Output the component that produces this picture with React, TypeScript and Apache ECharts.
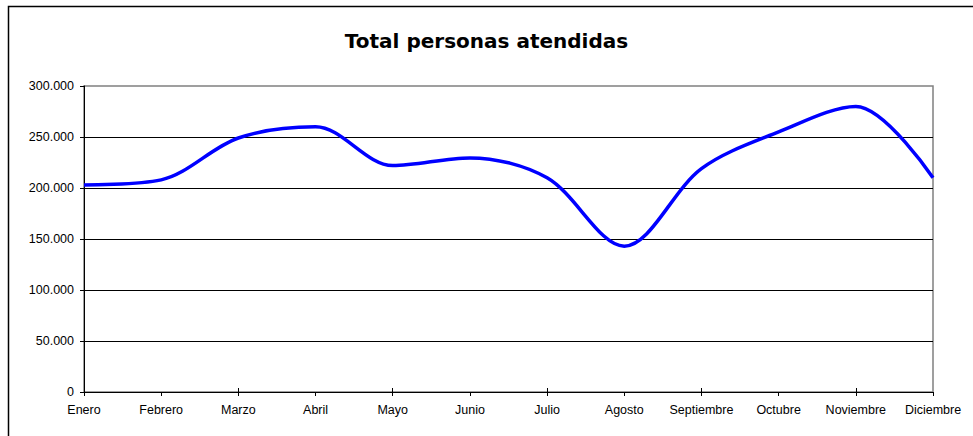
import React, { useEffect, useRef } from "react";
import * as echarts from "echarts";

const months = ["Enero", "Febrero", "Marzo", "Abril", "Mayo", "Junio", "Julio", "Agosto", "Septiembre", "Octubre", "Noviembre", "Diciembre"];
const attended = [203000, 208000, 249000, 260000, 222000, 229500, 210000, 143000, 219000, 255000, 280000, 210000];
const titleText = "Total personas atendidas";

export default function App() {
  const ref = useRef<HTMLDivElement>(null);
  useEffect(() => {
    if (!ref.current) return;
    const chart = echarts.init(ref.current, null, { renderer: "svg" });
    const font = "'Liberation Sans', Arial, sans-serif";
    chart.setOption({
      animation: false,
      backgroundColor: "#ffffff",
      title: {
        text: titleText,
        left: "center",
        top: 26,
        textStyle: { fontFamily: "'DejaVu Sans', Verdana, sans-serif", fontWeight: "bold", fontSize: 20, color: "#000" },
      },
      graphic: [
        {
          type: "rect",
          shape: { x: 8.5, y: 6.5, width: 1000, height: 500 },
          style: { fill: "none", stroke: "#000", lineWidth: 1.5 },
          silent: true,
          z: 0,
        },
      ],
      grid: {
        left: 84,
        right: 40,
        top: 86,
        bottom: 44,
        show: true,
        borderColor: "#808080",
        borderWidth: 1.5,
        backgroundColor: "transparent",
      },
      xAxis: [
        {
          type: "category",
          data: months,
          boundaryGap: false,
          axisLine: { lineStyle: { color: "#000", width: 1 } },
          axisTick: { show: true, inside: false, length: 4, lineStyle: { color: "#000" } },
          axisLabel: { color: "#000", fontFamily: font, fontSize: 12.5, margin: 11, interval: 0 },
          splitLine: { show: false },
        },
        {
          type: "category",
          data: months,
          boundaryGap: false,
          position: "bottom",
          axisLine: { show: false },
          axisTick: { show: true, inside: true, length: 4, lineStyle: { color: "#000" } },
          axisLabel: { show: false },
          splitLine: { show: false },
        },
      ],
      yAxis: {
        type: "value",
        min: 0,
        max: 300000,
        interval: 50000,
        axisLine: { show: true, lineStyle: { color: "#000", width: 1 } },
        axisTick: { show: true, length: 4, lineStyle: { color: "#000" } },
        axisLabel: {
          color: "#000",
          fontFamily: font,
          fontSize: 12.5,
          margin: 10,
          formatter: (v: number) => (v === 0 ? "0" : v.toLocaleString("de-DE")),
        },
        splitLine: { show: true, showMaxLine: false, showMinLine: false, lineStyle: { color: "#000", width: 1 } },
      },
      series: [
        {
          type: "line",
          data: attended,
          smooth: 0.33,
          symbol: "none",
          lineStyle: { color: "#0000ff", width: 3.5 },
          z: 5,
        },
      ],
    });
    return () => chart.dispose();
  }, []);
  return (
    <div
      ref={ref}
      style={{ position: "absolute", left: 0, top: 0, width: 973, height: 436 }}
    />
  );
}
